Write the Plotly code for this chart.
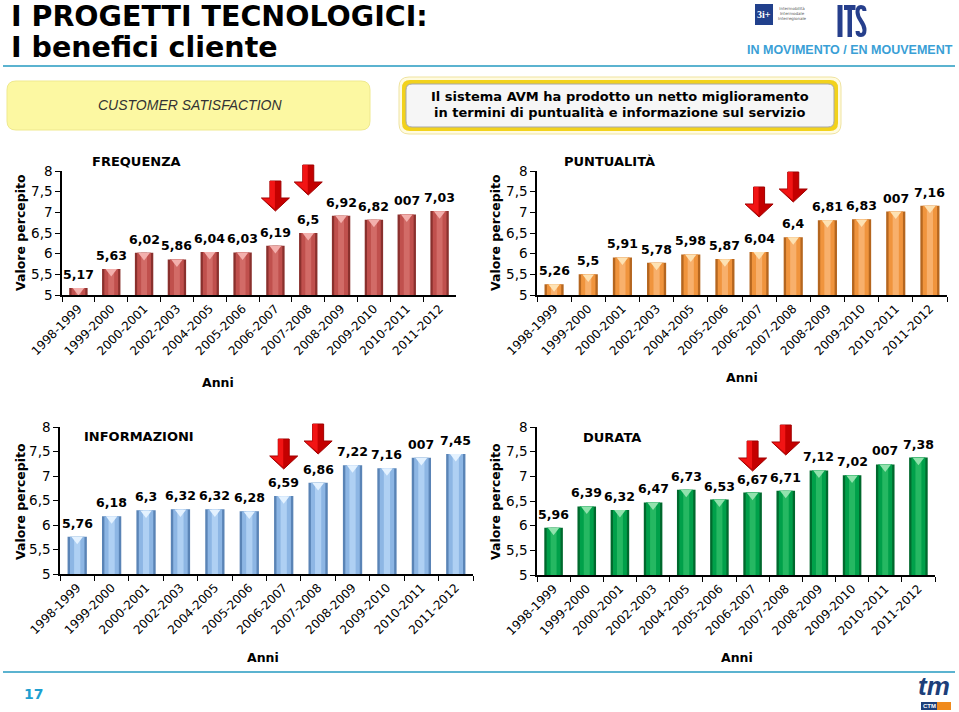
import plotly.graph_objects as go

W, H = 959, 712

categories = ["1998-1999", "1999-2000", "2000-2001", "2002-2003", "2004-2005", "2005-2006",
              "2006-2007", "2007-2008", "2008-2009", "2009-2010", "2010-2011", "2011-2012"]

frequenza = [5.17, 5.63, 6.02, 5.86, 6.04, 6.03, 6.19, 6.50, 6.92, 6.82, 6.95, 7.03]
frequenza_labels = ["5,17", "5,63", "6,02", "5,86", "6,04", "6,03", "6,19", "6,5", "6,92", "6,82", "007", "7,03"]

puntualita = [5.26, 5.50, 5.91, 5.78, 5.98, 5.87, 6.04, 6.40, 6.81, 6.83, 7.02, 7.16]
puntualita_labels = ["5,26", "5,5", "5,91", "5,78", "5,98", "5,87", "6,04", "6,4", "6,81", "6,83", "007", "7,16"]

informazioni = [5.76, 6.18, 6.30, 6.32, 6.32, 6.28, 6.59, 6.86, 7.22, 7.16, 7.37, 7.45]
informazioni_labels = ["5,76", "6,18", "6,3", "6,32", "6,32", "6,28", "6,59", "6,86", "7,22", "7,16", "007", "7,45"]

durata = [5.96, 6.39, 6.32, 6.47, 6.73, 6.53, 6.67, 6.71, 7.12, 7.02, 7.24, 7.38]
durata_labels = ["5,96", "6,39", "6,32", "6,47", "6,73", "6,53", "6,67", "6,71", "7,12", "7,02", "007", "7,38"]

y_tickvals = [5, 5.5, 6, 6.5, 7, 7.5, 8]
y_ticktext = ["5", "5,5", "6", "6,5", "7", "7,5", "8"]

arrow_categories = ["2006-2007", "2007-2008"]

FONT = "DejaVu Sans, Verdana, sans-serif"


def px(x):
    return x / W


def py(y):
    return 1 - y / H


panels = [
    dict(title="FREQUENZA", vals=frequenza, labels=frequenza_labels,
         colors=("#8a302d", "#c0504d", "#d26b67", "#f3b0ad"),
         box=(62, 456, 171, 295), title_xy=(136, 162), ytitle_xy=(20, 233), anni_xy=(218, 383),
         arrow_tops=(181, 165)),
    dict(title="PUNTUALITÀ", vals=puntualita, labels=puntualita_labels,
         colors=("#b5661f", "#f0943d", "#f8b06c", "#fde2b4"),
         box=(537, 947, 171, 295), title_xy=(609, 161), ytitle_xy=(495, 233), anni_xy=(742, 377),
         arrow_tops=(187, 172)),
    dict(title="INFORMAZIONI", vals=informazioni, labels=informazioni_labels,
         colors=("#5a84b6", "#8db6e4", "#afd0f3", "#e4f2ff"),
         box=(60, 473, 427, 574), title_xy=(139, 436), ytitle_xy=(20, 502), anni_xy=(263, 657),
         arrow_tops=(439, 424)),
    dict(title="DURATA", vals=durata, labels=durata_labels,
         colors=("#00692d", "#00a04a", "#25b862", "#92e2ad"),
         box=(537, 935, 427, 575), title_xy=(612, 437), ytitle_xy=(495, 502), anni_xy=(737, 657),
         arrow_tops=(441, 425)),
]

fig = go.Figure()
shapes = []
annotations = []
layout_axes = {}


def rrect(x0, y0, x1, y1, r):
    return (f"M {px(x0 + r)},{py(y0)} L {px(x1 - r)},{py(y0)} Q {px(x1)},{py(y0)} {px(x1)},{py(y0 + r)} "
            f"L {px(x1)},{py(y1 - r)} Q {px(x1)},{py(y1)} {px(x1 - r)},{py(y1)} "
            f"L {px(x0 + r)},{py(y1)} Q {px(x0)},{py(y1)} {px(x0)},{py(y1 - r)} "
            f"L {px(x0)},{py(y0 + r)} Q {px(x0)},{py(y0)} {px(x0 + r)},{py(y0)} Z")


def prect(x0, y0, x1, y1, color):
    shapes.append(dict(type="rect", x0=px(x0), x1=px(x1), y0=py(y0), y1=py(y1), xref="paper", yref="paper",
                       fillcolor=color, line=dict(width=0)))


for k, p in enumerate(panels):
    xid = "x" if k == 0 else f"x{k + 1}"
    yid = "y" if k == 0 else f"y{k + 1}"
    xkey = "xaxis" if k == 0 else f"xaxis{k + 1}"
    ykey = "yaxis" if k == 0 else f"yaxis{k + 1}"
    x0, x1, y0, y1 = p["box"]
    dark, main, light, cap = p["colors"]
    ppu = (y1 - y0) / 3.0

    fig.add_trace(go.Bar(x=categories, y=p["vals"], width=0.56, marker=dict(color=dark, line=dict(width=0)),
                         xaxis=xid, yaxis=yid, showlegend=False, hoverinfo="skip"))
    fig.add_trace(go.Bar(x=categories, y=p["vals"], width=0.42, marker=dict(color=main, line=dict(width=0)),
                         xaxis=xid, yaxis=yid, showlegend=False, hoverinfo="skip"))
    fig.add_trace(go.Bar(x=categories, y=p["vals"], width=0.18, marker=dict(color=light, line=dict(width=0)),
                         xaxis=xid, yaxis=yid, showlegend=False, hoverinfo="skip"))
    fig.add_trace(go.Scatter(x=categories, y=[v - 2.6 / ppu for v in p["vals"]], mode="markers",
                             marker=dict(symbol="triangle-down", size=10, color=cap, line=dict(width=0)),
                             xaxis=xid, yaxis=yid, showlegend=False, hoverinfo="skip", cliponaxis=False))

    for cat, v, lab in zip(categories, p["vals"], p["labels"]):
        annotations.append(dict(text=lab, x=cat, y=v, xref=xid, yref=yid, showarrow=False,
                                xanchor="center", yanchor="bottom", yshift=4,
                                font=dict(family=FONT, size=12.5, color="black", weight="bold")))

    layout_axes[xkey] = dict(domain=[px(x0), px(x1)], anchor=yid, type="category", range=[-0.5, 11.5],
                             tickson="boundaries", ticks="outside", ticklen=5, tickcolor="black", tickwidth=1,
                             showline=True, linecolor="black", linewidth=2, tickangle=-45, showgrid=False,
                             automargin=False, fixedrange=True,
                             tickfont=dict(family=FONT, size=12, color="black"))
    layout_axes[ykey] = dict(domain=[py(y1), py(y0)], anchor=xid, range=[5, 8], tickvals=y_tickvals,
                             ticktext=y_ticktext, ticks="outside", ticklen=5, tickcolor="black",
                             showline=True, linecolor="black", linewidth=1.5, showgrid=False, zeroline=False,
                             automargin=False, fixedrange=True,
                             tickfont=dict(family=FONT, size=13.5, color="black"))

    annotations.append(dict(text=p["title"], x=px(p["title_xy"][0]), y=py(p["title_xy"][1]), xref="paper",
                            yref="paper", showarrow=False, xanchor="center", yanchor="middle",
                            font=dict(family=FONT, size=13, color="black", weight="bold")))
    annotations.append(dict(text="Valore percepito", x=px(p["ytitle_xy"][0]), y=py(p["ytitle_xy"][1]),
                            xref="paper", yref="paper", showarrow=False, textangle=-90,
                            xanchor="center", yanchor="middle",
                            font=dict(family=FONT, size=12.5, color="black", weight="bold")))
    annotations.append(dict(text="Anni", x=px(p["anni_xy"][0]), y=py(p["anni_xy"][1]), xref="paper",
                            yref="paper", showarrow=False, xanchor="center", yanchor="middle",
                            font=dict(family=FONT, size=12.5, color="black", weight="bold")))

    cw = (x1 - x0) / 12.0
    for cat, ty in zip(arrow_categories, p["arrow_tops"]):
        i = categories.index(cat)
        cx = x0 + (i + 0.5) * cw
        pts = [(cx - 5.5, ty), (cx + 5.5, ty), (cx + 5.5, ty + 17), (cx + 14, ty + 17), (cx, ty + 30),
               (cx - 14, ty + 17), (cx - 5.5, ty + 17)]
        path = "M " + " L ".join(f"{px(a)},{py(b)}" for a, b in pts) + " Z"
        shapes.append(dict(type="path", path=path, xref="paper", yref="paper", fillcolor="#c40000",
                           line=dict(color="#a00000", width=1)))
        pts2 = [(cx - 5.5, ty), (cx - 0.5, ty), (cx - 0.5, ty + 28), (cx - 13, ty + 17.5), (cx - 5.5, ty + 17.5)]
        path2 = "M " + " L ".join(f"{px(a)},{py(b)}" for a, b in pts2) + " Z"
        shapes.append(dict(type="path", path=path2, xref="paper", yref="paper", fillcolor="#f21414",
                           line=dict(width=0)))

# header / footer decorations
shapes.append(dict(type="line", x0=px(3), x1=px(955), y0=py(66), y1=py(66), xref="paper", yref="paper",
                   line=dict(color="#5bb3d0", width=2)))
shapes.append(dict(type="line", x0=px(3), x1=px(955), y0=py(672), y1=py(672), xref="paper", yref="paper",
                   line=dict(color="#5bb3d0", width=2)))
shapes.append(dict(type="path", path=rrect(7, 81, 370, 130, 9), xref="paper", yref="paper",
                   fillcolor="#fcf8a2", line=dict(color="#efe98e", width=1)))
shapes.append(dict(type="path", path=rrect(399, 77, 841, 134, 10), xref="paper", yref="paper",
                   fillcolor="#fffbe0", line=dict(color="#efe3a0", width=1)))
shapes.append(dict(type="path", path=rrect(402, 80, 838, 131, 8), xref="paper", yref="paper",
                   fillcolor="#f2d21c", line=dict(width=0)))
shapes.append(dict(type="path", path=rrect(406, 84, 834, 127, 6), xref="paper", yref="paper",
                   fillcolor="#f6f6f6", line=dict(color="#a8a8a8", width=1)))
# logos
prect(755, 4, 773, 25, "#21408c")
prect(921, 702, 937, 710, "#1d3f7a")
prect(937, 702, 951, 710, "#f08a1c")
# "ITS" lettering (condensed)
ITS = "#263f8c"
prect(837.5, 5, 842.5, 37, ITS)
prect(844, 5, 855.5, 10, ITS)
prect(847.5, 5, 852, 37, ITS)
s_path = (f"M {px(864.5)},{py(11)} Q {px(864.5)},{py(7)} {px(861)},{py(7)} Q {px(857.5)},{py(7)} {px(857.5)},{py(12)} "
          f"Q {px(857.5)},{py(16)} {px(861)},{py(21)} Q {px(864.5)},{py(26)} {px(864.5)},{py(30)} "
          f"Q {px(864.5)},{py(35)} {px(861)},{py(35)} Q {px(857.5)},{py(35)} {px(857.5)},{py(31)}")
shapes.append(dict(type="path", path=s_path, xref="paper", yref="paper", line=dict(color=ITS, width=4)))


def ann(text, x, y, size, color="black", family=FONT, weight="normal", style="normal", xanchor="center"):
    annotations.append(dict(text=text, x=px(x), y=py(y), xref="paper", yref="paper", showarrow=False,
                            xanchor=xanchor, yanchor="middle",
                            font=dict(family=family, size=size, color=color, weight=weight, style=style)))


ann("I PROGETTI TECNOLOGICI:", 9, 17, 28.5, weight="bold", xanchor="left")
ann("I benefici cliente", 9, 47, 28.5, weight="bold", xanchor="left")
ann("CUSTOMER SATISFACTION", 190, 105, 14, color="#333333", family="Liberation Sans, Arial, sans-serif",
    style="italic")
ann("Il sistema AVM ha prodotto un netto miglioramento", 620, 96, 13, weight="bold")
ann("in termini di puntualità e informazione sul servizio", 620, 113, 13, weight="bold")
ann("3i+", 764, 14.5, 10, color="white", family="Liberation Serif, serif", weight="bold")
ann("Intermobilità<br>Intermodale<br>Interregionale", 776, 14, 4, color="#555555", xanchor="left")
ann("IN MOVIMENTO / EN MOUVEMENT", 850, 50, 12.5, color="#3a9fd6",
    family="Liberation Sans, sans-serif", weight="bold")
ann("17", 22, 694, 14, color="#1e9fd0", weight="bold", xanchor="left")
ann("tm", 934, 686, 26, color="#1d3f7a", family="Liberation Sans, sans-serif", weight="bold", style="italic")
ann("CTM", 929, 706, 6, color="white", family="Liberation Sans, sans-serif", weight="bold")

fig.update_layout(width=W, height=H, margin=dict(l=0, r=0, t=0, b=0, autoexpand=False), barmode="overlay",
                  plot_bgcolor="white", paper_bgcolor="white", showlegend=False,
                  shapes=shapes, annotations=annotations, **layout_axes)

fig.write_html("out.html", config={"displayModeBar": False},
               post_script="document.body.style.margin='0';document.body.style.padding='0';")
